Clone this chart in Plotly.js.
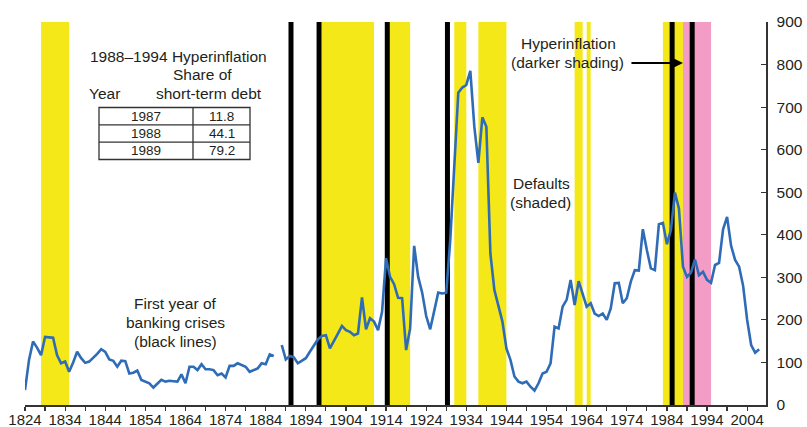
<!DOCTYPE html>
<html><head><meta charset="utf-8">
<script src="https://cdn.plot.ly/plotly-3.0.1.min.js"></script>
<style>html,body{margin:0;padding:0;background:#fff;}#chart{width:807px;height:427px;}</style>
</head><body><div id="chart"></div>
<script>
// ---------------- DATA ----------------
const firstYear = 1824;
const debtValues = [
  35,106,149,135,117,160,159,158,117,98,      // 1824-1833
  102,78,100,125,110,99,102,110,120,131,      // 1834-1843
  125,107,104,90,104,103,74,76,81,59,         // 1844-1853
  55,51,41,51,59,55,57,56,55,72,              // 1854-1863
  51,90,90,82,96,84,84,82,70,74,              // 1864-1873
  65,92,92,98,94,90,78,82,86,98,              // 1874-1883
  96,119,115,null,141,107,115,112,98,104,     // 1884-1893
  110,125,140,154,162,164,133,149,168,186,    // 1894-1903
  176,172,164,168,253,178,204,196,176,219,    // 1904-1913
  345,301,284,252,251,129,180,374,301,264,    // 1914-1923
  209,178,219,264,262,264,388,560,734,746,    // 1924-1933
  752,785,654,569,676,654,356,270,231,196,    // 1934-1943
  133,106,67,55,51,55,43,34,51,74,            // 1944-1953
  78,98,184,180,231,247,294,235,291,258,      // 1954-1963
  231,239,215,209,215,200,227,286,287,239,    // 1964-1973
  251,290,317,316,413,364,321,317,425,428,    // 1974-1983
  378,411,499,462,325,301,311,342,305,313,    // 1984-1993
  294,287,329,334,413,442,374,341,325,280,    // 1994-2003
  200,141,123,131                             // 2004-2007
];
const years = debtValues.map((v, i) => firstYear + i);

const defaultPeriods = [[1828,1834],[1898,1910],[1914,1919],[1931,1933],[1937,1943],[1961,1962],[1964,1964],[1983,1987]];
const hyperinflationPeriod = [1988,1994];
const bankingCrisisYears = [1890,1897,1914,1929,1985,1990];

const tableYears = ['1987','1988','1989'];
const tableShares = ['11.8','44.1','79.2'];

const xTickLabels = ['1824','1834','1844','1854','1864','1874','1884','1894','1904','1914','1924','1934','1944','1954','1964','1974','1984','1994','2004'];
const yTickValues = [0,100,200,300,400,500,600,700,800,900];

// ---------------- LAYOUT HELPERS ----------------
const PL = 25, PR = 766, PT = 22, PB = 405;
const fx = p => (p - PL) / (PR - PL);
const fy = p => (PB - p) / (PB - PT);

const YELLOW = '#f5e819';
const PINK = '#f39cc5';
const BLUE = '#2f6cb7';
const TEXT = '#231f20';
const FONT = 'Liberation Sans, Arial, sans-serif';
const NARROW = 'Liberation Sans Narrow, Arial Narrow, Liberation Sans, Arial, sans-serif';

const shapes = [];
defaultPeriods.forEach(([a, b]) => shapes.push({
  type: 'rect', xref: 'x', yref: 'paper', x0: a, x1: b + 1, y0: 0, y1: 1,
  fillcolor: YELLOW, line: {width: 0}, layer: 'below'
}));
shapes.push({
  type: 'rect', xref: 'x', yref: 'paper', x0: hyperinflationPeriod[0], x1: hyperinflationPeriod[1] + 1, y0: 0, y1: 1,
  fillcolor: PINK, line: {width: 0}, layer: 'below'
});
bankingCrisisYears.forEach(yv => shapes.push({
  type: 'line', xref: 'x', yref: 'paper', x0: yv + 0.3, x1: yv + 0.3, y0: 0, y1: 1,
  line: {color: '#000', width: 5}, layer: 'below'
}));

// table grid
const tL = 99, tR = 250, tT = 107.5, tB = 159.5, tC = 193;
const rowH = (tB - tT) / tableYears.length;
shapes.push({type: 'rect', xref: 'paper', yref: 'paper', x0: fx(tL), x1: fx(tR), y0: fy(tB), y1: fy(tT),
  line: {color: '#333', width: 1.3}, fillcolor: 'rgba(0,0,0,0)'});
shapes.push({type: 'line', xref: 'paper', yref: 'paper', x0: fx(tC), x1: fx(tC), y0: fy(tB), y1: fy(tT),
  line: {color: '#333', width: 1.3}});
for (let i = 1; i < tableYears.length; i++) {
  shapes.push({type: 'line', xref: 'paper', yref: 'paper', x0: fx(tL), x1: fx(tR), y0: fy(tT + i * rowH), y1: fy(tT + i * rowH),
    line: {color: '#333', width: 1.3}});
}

const annotations = [];
function txt(text, xp, yp, size, anchor) {
  annotations.push({text: text, xref: 'paper', yref: 'paper', x: fx(xp), y: fy(yp),
    xanchor: anchor || 'center', yanchor: 'middle', showarrow: false,
    font: {family: FONT, size: size || 15.5, color: TEXT}});
}
txt('1988–1994 Hyperinflation', 178, 56);
txt('Share of', 202, 74);
txt('Year', 104, 93);
txt('short-term debt', 209, 93);
tableYears.forEach((yr, i) => {
  txt(yr, (tL + tC) / 2, tT + (i + 0.5) * rowH, 13.5);
  txt(tableShares[i], (tC + tR) / 2, tT + (i + 0.5) * rowH, 13.5);
});
txt('First year of', 175, 303);
txt('banking crises', 175, 322);
txt('(black lines)', 175, 341);
txt('Hyperinflation', 568, 44);
txt('(darker shading)', 567, 63);
txt('Defaults', 541, 183.5);
txt('(shaded)', 540, 202);
// arrow pointing at the hyperinflation band
annotations.push({text: '', xref: 'x', yref: 'paper', x: hyperinflationPeriod[0], y: fy(63),
  showarrow: true, ax: -53, ay: 0, arrowhead: 2, arrowsize: 1.1, arrowwidth: 2.2, arrowcolor: '#000', standoff: 0});

const xTickVals = [], xTickText = [];
for (let i = 0; i < xTickLabels.length; i++) {
  const y = +xTickLabels[i];
  xTickVals.push(y); xTickText.push(xTickLabels[i]);
  if (i < xTickLabels.length - 1) { xTickVals.push(y + 5); xTickText.push(''); }
}

const trace = {
  x: years, y: debtValues, type: 'scatter', mode: 'lines', connectgaps: false,
  line: {color: BLUE, width: 2.6}, hoverinfo: 'skip'
};

const layout = {
  width: 807, height: 427,
  margin: {l: PL, r: 807 - PR, t: PT, b: 427 - PB},
  paper_bgcolor: '#fff', plot_bgcolor: 'rgba(0,0,0,0)',
  showlegend: false,
  font: {family: FONT, color: TEXT},
  xaxis: {
    range: [1824, 2008.7], tickmode: 'array', tickvals: xTickVals, ticktext: xTickText,
    ticks: 'outside', ticklen: 4, tickwidth: 1.2, tickcolor: '#333',
    showline: true, linecolor: '#333', linewidth: 1.5, showgrid: false, zeroline: false,
    tickfont: {family: NARROW, size: 15, color: TEXT}, automargin: false, fixedrange: true,
    ticklabelstandoff: -4
  },
  yaxis: {
    range: [0, 900], side: 'right', tickmode: 'array', tickvals: yTickValues,
    ticks: 'inside', ticklen: 5, tickwidth: 1.2, tickcolor: '#333',
    showline: true, linecolor: '#333', linewidth: 1.5, showgrid: false, zeroline: false,
    tickfont: {family: NARROW, size: 15.5, color: TEXT}, automargin: false, fixedrange: true,
    ticklabelstandoff: 6
  },
  shapes: shapes, annotations: annotations
};

Plotly.newPlot('chart', [trace], layout, {displayModeBar: false, staticPlot: true});
</script>
</body></html>
